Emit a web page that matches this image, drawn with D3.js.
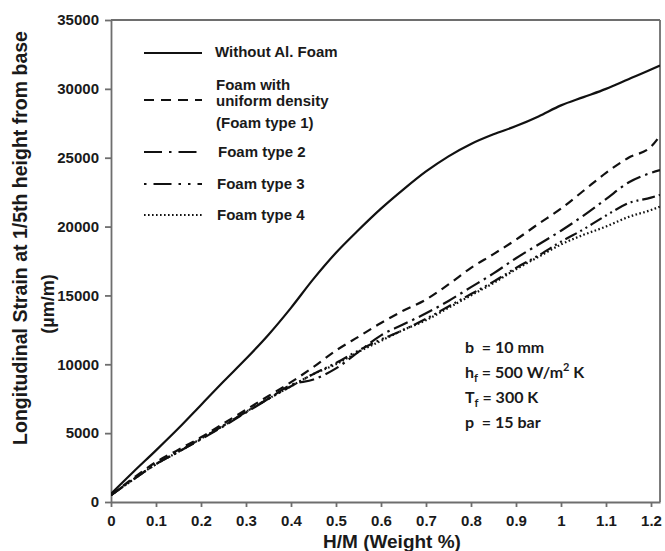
<!DOCTYPE html>
<html><head><meta charset="utf-8">
<script src="https://cdn.jsdelivr.net/npm/d3@7/dist/d3.min.js"></script>
<style>body{margin:0;background:#fff}svg{display:block}</style>
</head><body>
<svg id="chart" width="665" height="551"></svg>
<script>
const hmValues = [0, 0.05, 0.1, 0.15, 0.2, 0.25, 0.3, 0.35, 0.4, 0.45, 0.5, 0.55, 0.6, 0.65, 0.7, 0.75, 0.8, 0.85, 0.9, 0.95, 1.0, 1.05, 1.1, 1.15, 1.2, 1.22];
const withoutFoam = [600, 2200, 3750, 5350, 7050, 8750, 10400, 12150, 14100, 16200, 18100, 19750, 21300, 22700, 24000, 25100, 26000, 26700, 27300, 28000, 28800, 29400, 30000, 30700, 31400, 31700];
const foamType1 = [500, 1750, 2900, 3800, 4700, 5700, 6700, 7700, 8700, 9800, 11000, 12000, 13000, 13900, 14700, 15800, 17000, 18000, 19050, 20200, 21300, 22600, 23900, 25000, 25800, 26600];
const foamType2 = [500, 1650, 2750, 3650, 4550, 5500, 6500, 7500, 8500, 8900, 9700, 10900, 12100, 12900, 13700, 14600, 15600, 16600, 17700, 18700, 19700, 20800, 22000, 23200, 23900, 24100];
const foamType3 = [500, 1650, 2750, 3650, 4600, 5550, 6550, 7500, 8400, 9300, 10100, 11000, 11800, 12500, 13300, 14200, 15100, 16000, 17000, 17900, 18900, 19800, 20800, 21700, 22100, 22300];
const foamType4 = [500, 1650, 2750, 3650, 4600, 5550, 6550, 7500, 8400, 9300, 10000, 10900, 11700, 12500, 13200, 14100, 15000, 15900, 16900, 17800, 18700, 19400, 20000, 20700, 21200, 21450];
const xTicks = [0, 0.1, 0.2, 0.3, 0.4, 0.5, 0.6, 0.7, 0.8, 0.9, 1, 1.1, 1.2];
const yTicks = [0, 5000, 10000, 15000, 20000, 25000, 30000, 35000];
const seriesNames = ["Without Al. Foam", "Foam type 1", "Foam type 2", "Foam type 3", "Foam type 4"];

const svg = d3.select("#chart");
const L = 111, R = 660, T = 20, B = 502;
const x = d3.scaleLinear().domain([0, 1.22]).range([L, R]);
const y = d3.scaleLinear().domain([0, 35000]).range([B, T]);
const axisColor = "#6e6e6e";
const font = "'Liberation Sans', Arial, sans-serif";

// frame top / right
svg.append("line").attr("x1", L).attr("x2", R).attr("y1", T).attr("y2", T).attr("stroke", axisColor).attr("stroke-width", 1.8);
svg.append("line").attr("x1", R).attr("x2", R).attr("y1", T).attr("y2", B).attr("stroke", axisColor).attr("stroke-width", 1.8);

const xAxis = svg.append("g").attr("transform", `translate(0,${B})`)
  .call(d3.axisBottom(x).tickValues(xTicks).tickSize(5).tickSizeOuter(0).tickFormat(d => d3.format("~g")(d)));
const yAxis = svg.append("g").attr("transform", `translate(${L},0)`)
  .call(d3.axisLeft(y).tickValues(yTicks).tickSize(6).tickSizeOuter(0).tickFormat(d => d));
[xAxis, yAxis].forEach(g => {
  g.select(".domain").attr("stroke", axisColor).attr("stroke-width", 1.8);
  g.selectAll(".tick line").attr("stroke", axisColor).attr("stroke-width", 1.8);
  g.selectAll("text").attr("fill", "#1a1a1a").style("font-family", font).style("font-weight", "bold").style("font-size", "15px");
});
xAxis.selectAll("text").attr("dy", "1.05em");
yAxis.selectAll("text").attr("x", -12);

// axis titles
svg.append("text").attr("x", 392).attr("y", 548).attr("text-anchor", "middle")
  .style("font-family", font).style("font-weight", "bold").style("font-size", "19px").attr("fill", "#1a1a1a")
  .text("H/M (Weight %)");
svg.append("text").attr("transform", "translate(27,238) rotate(-90)").attr("text-anchor", "middle")
  .style("font-family", font).style("font-weight", "bold").style("font-size", "19.5px").attr("fill", "#1a1a1a")
  .text("Longitudinal Strain at 1/5th height from base");
svg.append("text").attr("transform", "translate(54,304) rotate(-90)").attr("text-anchor", "middle")
  .style("font-family", font).style("font-weight", "bold").style("font-size", "18px").attr("fill", "#1a1a1a")
  .text("(\u00b5m/m)");

const styles = [
  {dash: null, w: 2.2},
  {dash: "9,6", w: 2.2},
  {dash: "15,5,2.5,5", w: 2.2},
  {dash: "13,4,2,4,2,4", w: 2.2},
  {dash: "1.6,2.4", w: 2.2}
];
const allSeries = [withoutFoam, foamType1, foamType2, foamType3, foamType4];
const line = d3.line().x((d, i) => x(hmValues[i])).y(d => y(d)).curve(d3.curveMonotoneX);
svg.append("defs").append("clipPath").attr("id", "clip").append("rect").attr("x", L).attr("y", T).attr("width", R - L).attr("height", B - T);
const plot = svg.append("g").attr("clip-path", "url(#clip)");
allSeries.forEach((s, k) => {
  plot.append("path").datum(s).attr("d", line).attr("fill", "none").attr("stroke", "#111")
    .attr("stroke-width", styles[k].w).attr("stroke-dasharray", styles[k].dash);
});

// legend
const legendRows = [
  {k: 0, ly: 53, lines: [["Without  Al. Foam", 57]], tx: 215},
  {k: 1, ly: 100, lines: [["Foam with", 90], ["uniform density", 106], ["(Foam type 1)", 128]], tx: 216},
  {k: 2, ly: 152, lines: [["Foam type 2", 157]], tx: 218},
  {k: 3, ly: 184, lines: [["Foam type 3", 189]], tx: 217},
  {k: 4, ly: 215, lines: [["Foam type 4", 220]], tx: 217}
];
const legendDash = [null, "10,7", "18,7,2.5,7", "2.5,7,18,7,2.5,7", "1.6,2.4"];
legendRows.forEach(r => {
  svg.append("line").attr("x1", 144).attr("x2", 202).attr("y1", r.ly).attr("y2", r.ly)
    .attr("stroke", "#111").attr("stroke-width", 2.2).attr("stroke-dasharray", legendDash[r.k]);
  r.lines.forEach(([t, yy]) => {
    svg.append("text").attr("x", r.tx).attr("y", yy).text(t)
      .style("font-family", font).style("font-weight", "bold").style("font-size", "15px").attr("fill", "#1a1a1a");
  });
});

// annotation
const annFont = "Lato, 'Open Sans', sans-serif";
const ann = svg.append("g").style("font-family", annFont).style("font-weight", "bold").style("font-size", "16px").attr("fill", "#1a1a1a");
const a1 = ann.append("text").attr("x", 465).attr("y", 353).attr("xml:space", "preserve");
a1.append("tspan").text("b  = 10 mm");
const a2 = ann.append("text").attr("x", 465).attr("y", 378);
a2.append("tspan").text("h");
a2.append("tspan").attr("font-size", "11px").attr("dy", 4).text("f");
a2.append("tspan").attr("dy", -4).text(" = 500 W/m");
a2.append("tspan").attr("font-size", "11px").attr("dy", -7).text("2");
a2.append("tspan").attr("dy", 7).text(" K");
const a3 = ann.append("text").attr("x", 465).attr("y", 403);
a3.append("tspan").text("T");
a3.append("tspan").attr("font-size", "11px").attr("dy", 4).text("f");
a3.append("tspan").attr("dy", -4).text(" = 300 K");
const a4 = ann.append("text").attr("x", 465).attr("y", 428).attr("xml:space", "preserve");
a4.append("tspan").text("p  = 15 bar");
</script>
</body></html>
